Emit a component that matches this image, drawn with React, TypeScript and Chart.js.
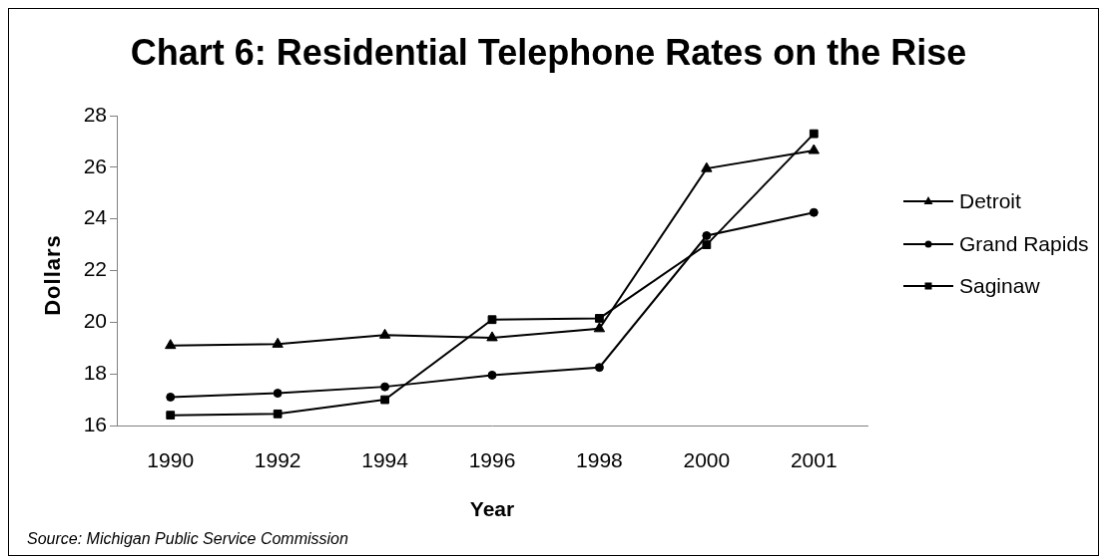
import React, { useEffect, useRef } from "react";
import { Chart, registerables } from "chart.js";

Chart.register(...registerables);

const categories = ["1990", "1992", "1994", "1996", "1998", "2000", "2001"];
const detroit = [19.1, 19.15, 19.5, 19.4, 19.75, 25.95, 26.65];
const grandRapids = [17.1, 17.25, 17.5, 17.95, 18.25, 23.35, 24.25];
const saginaw = [16.4, 16.45, 17.0, 20.1, 20.15, 23.0, 27.3];
const seriesNames = ["Detroit", "Grand Rapids", "Saginaw"];
const yTicks = [16, 18, 20, 22, 24, 26, 28];

const TITLE = "Chart 6: Residential Telephone Rates on the Rise";
const X_TITLE = "Year";
const Y_TITLE = "Dollars";
const SOURCE = "Source: Michigan Public Service Commission";

const FONT = "'Liberation Sans', Arial, sans-serif";

const textPlugin = {
  id: "texts",
  afterDraw(chart: any) {
    const ctx = chart.ctx;
    ctx.save();
    ctx.fillStyle = "#000";
    // Title
    ctx.font = `bold 36px ${FONT}`;
    ctx.textAlign = "center";
    ctx.textBaseline = "alphabetic";
    ctx.fillText(TITLE, 540.5, 56);
    // X title
    ctx.font = `bold 21px ${FONT}`;
    ctx.fillText(X_TITLE, 484, 509);
    // Y title
    ctx.save();
    ctx.translate(45, 267);
    ctx.rotate(-Math.PI / 2);
    ctx.textBaseline = "middle";
    ctx.font = `bold 22px ${FONT}`;
    try {
      (ctx as any).letterSpacing = "1px";
    } catch (e) {}
    ctx.fillText(Y_TITLE, 0, 0);
    try {
      (ctx as any).letterSpacing = "0px";
    } catch (e) {}
    ctx.restore();
    // Source
    ctx.font = `italic 16px ${FONT}`;
    ctx.textAlign = "left";
    ctx.textBaseline = "middle";
    ctx.fillText(SOURCE, 18, 533);
    // Legend
    const rows = [193, 236, 278];
    chart.data.datasets.forEach((ds: any, i: number) => {
      const y = rows[i];
      ctx.strokeStyle = "#000";
      ctx.lineWidth = 2;
      ctx.beginPath();
      ctx.moveTo(896, y);
      ctx.lineTo(946, y);
      ctx.stroke();
      ctx.fillStyle = "#000";
      const cx = 921;
      if (ds.pointStyle === "triangle") {
        ctx.beginPath();
        ctx.moveTo(cx, y - 5);
        ctx.lineTo(cx + 4.5, y + 3);
        ctx.lineTo(cx - 4.5, y + 3);
        ctx.closePath();
        ctx.fill();
      } else if (ds.pointStyle === "circle") {
        ctx.beginPath();
        ctx.arc(cx, y, 3.5, 0, Math.PI * 2);
        ctx.fill();
      } else {
        ctx.fillRect(cx - 3.5, y - 3.5, 7, 7);
      }
      ctx.font = `21px ${FONT}`;
      ctx.textAlign = "left";
      ctx.textBaseline = "middle";
      ctx.fillText(ds.label, 952, y + 1);
    });
    ctx.restore();
  },
};

export default function App() {
  const ref = useRef<HTMLCanvasElement | null>(null);
  useEffect(() => {
    if (!ref.current) return;
    const mk = (label: string, data: number[], style: string, r: number) => ({
      label,
      data,
      borderColor: "#000",
      backgroundColor: "#000",
      borderWidth: 2,
      pointStyle: style,
      pointRadius: r,
      pointBorderWidth: 1,
      pointBackgroundColor: "#000",
      pointBorderColor: "#000",
      tension: 0,
    });
    const chart = new Chart(ref.current, {
      type: "line",
      data: {
        labels: categories,
        datasets: [
          mk(seriesNames[0], detroit, "triangle", 6),
          mk(seriesNames[1], grandRapids, "circle", 4),
          mk(seriesNames[2], saginaw, "rect", 5.5),
        ],
      },
      options: {
        responsive: false,
        animation: false,
        layout: { padding: { left: 0, right: 231, top: 107, bottom: 0 } },
        plugins: {
          legend: { display: false },
          title: { display: false },
          tooltip: { enabled: false },
        },
        scales: {
          x: {
            offset: true,
            grid: { display: false, drawTicks: false },
            border: { display: true, color: "#808080", width: 1 },
            ticks: {
              color: "#000",
              font: { family: FONT, size: 21 },
              padding: 24,
              maxRotation: 0,
            },
            afterFit: (s: any) => {
              s.height = 130;
            },
          },
          y: {
            min: 16,
            max: 28,
            afterBuildTicks: (s: any) => {
              s.ticks = yTicks.map((v) => ({ value: v }));
            },
            grid: {
              drawOnChartArea: false,
              drawTicks: true,
              tickLength: 7,
              color: "#808080",
            },
            border: { display: true, color: "#808080", width: 1 },
            ticks: {
              color: "#000",
              font: { family: FONT, size: 21 },
              padding: 3,
            },
            afterFit: (s: any) => {
              s.width = 108;
            },
          },
        },
      },
      plugins: [textPlugin],
    });
    return () => chart.destroy();
  }, []);
  return (
    <canvas
      ref={ref}
      width={1091}
      height={548}
      style={{ display: "block", border: "1px solid #000", width: 1091, height: 548 }}
    />
  );
}
